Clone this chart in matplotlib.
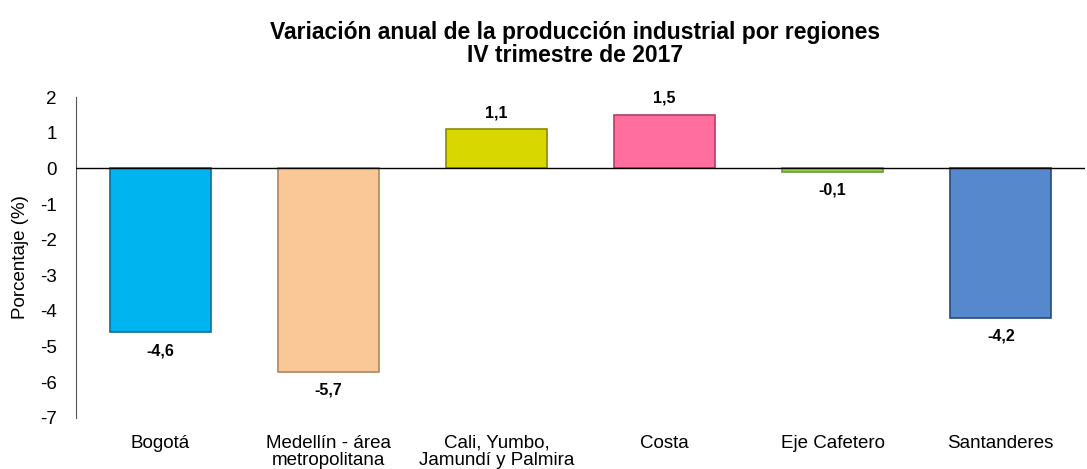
import matplotlib
matplotlib.use("Agg")
import matplotlib.pyplot as plt

categories = ["Bogotá", "Medellín - área\nmetropolitana", "Cali, Yumbo,\nJamundí y Palmira",
              "Costa", "Eje Cafetero", "Santanderes"]
values = [-4.6, -5.7, 1.1, 1.5, -0.1, -4.2]
labels = ["-4,6", "-5,7", "1,1", "1,5", "-0,1", "-4,2"]
colors = ["#00B4F0", "#FAC896", "#D8D800", "#FF6E9E", "#92D050", "#5588CC"]
edges = ["#0A6E96", "#B08660", "#8A8A00", "#B0405E", "#6A9A3A", "#2A4A78"]
yticks = [2, 1, 0, -1, -2, -3, -4, -5, -6, -7]

plt.rcParams['font.family'] = ['Liberation Sans', 'DejaVu Sans']
fig = plt.figure(figsize=(10.87, 4.69), dpi=100)
ax = fig.add_axes([0.070, 0.109, 0.928, 0.684])

x = list(range(len(categories)))
bars = ax.bar(x, values, width=0.6, color=colors, edgecolor=edges, linewidth=1.2, zorder=2)
ax.axhline(0, color="black", linewidth=1, zorder=3)

for xi, v, lab in zip(x, values, labels):
    if v >= 0:
        ax.text(xi, v + 0.25, lab, ha="center", va="bottom", fontsize=11.5, fontweight="bold")
    else:
        ax.text(xi, v - 0.3, lab, ha="center", va="top", fontsize=11.5, fontweight="bold")

ax.set_ylim(-7, 2)
ax.set_xlim(-0.5, len(categories) - 0.5)
ax.set_yticks(yticks)
ax.set_yticklabels([str(t) for t in yticks], fontsize=13.5)
ax.set_xticks(x)
ax.set_xticklabels(categories, fontsize=13.5, linespacing=1.0)
ax.tick_params(axis="y", length=0, pad=14)
ax.tick_params(axis="x", length=0, pad=12)
for s in ["top", "right", "bottom"]:
    ax.spines[s].set_visible(False)
ax.spines["left"].set_color("#555555")
ax.set_ylabel("Porcentaje (%)", fontsize=13.5, labelpad=8)

fig.text(0.529, 0.955, "Variación anual de la producción industrial por regiones\nIV trimestre de 2017",
         ha="center", va="top", fontsize=16.5, fontweight="bold", linespacing=1.0)

fig.savefig("out.png", dpi=100)
